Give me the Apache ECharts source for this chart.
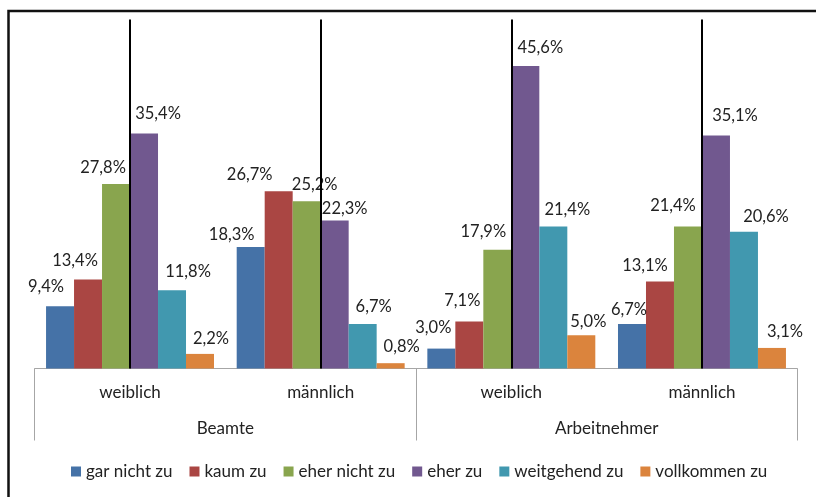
<!DOCTYPE html>
<html>
<head>
<meta charset="utf-8">
<script src="https://cdn.jsdelivr.net/npm/echarts@6/dist/echarts.min.js"></script>
<style>
  html, body { margin: 0; padding: 0; background: #fff; }
  #chart { width: 816px; height: 497px; }
</style>
</head>
<body>
<div id="chart"></div>
<script>
// Inner categories (gender) and outer groups (employment status)
const genders = ['weiblich', 'männlich', 'weiblich', 'männlich'];
const groups = ['Beamte', 'Arbeitnehmer'];

// Answer categories
const answers = ['gar nicht zu', 'kaum zu', 'eher nicht zu', 'eher zu', 'weitgehend zu', 'vollkommen zu'];

// Shares in percent, one array per answer, in the order of `genders`
const garNichtZu   = [9.4, 18.3, 3.0, 6.7];
const kaumZu       = [13.4, 26.7, 7.1, 13.1];
const eherNichtZu  = [27.8, 25.2, 17.9, 21.4];
const eherZu       = [35.4, 22.3, 45.6, 35.1];
const weitgehendZu = [11.8, 6.7, 21.4, 20.6];
const vollkommenZu = [2.2, 0.8, 5.0, 3.1];

const seriesValues = [garNichtZu, kaumZu, eherNichtZu, eherZu, weitgehendZu, vollkommenZu];
const colors = ['#4572A7', '#AA4643', '#89A54E', '#71588F', '#4198AF', '#DB843D'];

// Hand-placed label nudges [dx, dy] per answer and category
const labelNudge = [
  [[-14, -6], [-19, 1], [-8, -7], [-3, -1]],
  [[-13, -5], [-29, -3], [-7, -7], [-15, -2]],
  [[-13, -3], [8, -3], [-14, -5], [-15, -7]],
  [[14, -6], [10, 2], [15, -5], [19, -6]],
  [[16, -5], [11, -4], [14, -3], [22, -2]],
  [[11, -2], [11, -3], [7, 0], [13, -3]]
];

const FONT = 'Lato';
const TEXT = '#222';
const fmt = v => v.toFixed(1).replace('.', ',') + '%';

const series = answers.map((name, i) => ({
  name: name,
  type: 'bar',
  xAxisIndex: 0,
  barGap: '0%',
  barCategoryGap: '11.9%',
  itemStyle: { color: colors[i] },
  data: seriesValues[i].map((v, g) => ({
    value: v,
    label: { offset: labelNudge[i][g] }
  })),
  label: {
    show: true,
    position: 'top',
    distance: 5,
    fontFamily: FONT,
    fontSize: 16.5,
    color: TEXT,
    formatter: p => fmt(p.value)
  }
}));

// Vertical divider line through the centre of each category
series.push({
  name: 'divider',
  type: 'line',
  xAxisIndex: 0,
  data: genders.map(() => null),
  showSymbol: false,
  silent: true,
  z: 5,
  markLine: {
    silent: true,
    symbol: 'none',
    label: { show: false },
    lineStyle: { color: '#000', width: 2, type: 'solid' },
    data: genders.map((_, g) => ({ xAxis: g }))
  }
});

const chart = echarts.init(document.getElementById('chart'), null, { renderer: 'canvas' });
chart.setOption({
  backgroundColor: '#fff',
  animation: false,
  grid: { left: 34.7, right: 18.7, top: 19.5, bottom: 128.5 },
  xAxis: [
    {
      type: 'category',
      data: genders,
      position: 'bottom',
      axisLine: { show: true, lineStyle: { color: '#a6a6a6', width: 1 } },
      axisTick: { show: false },
      axisLabel: { margin: 16, fontFamily: FONT, fontSize: 17, color: TEXT }
    },
    {
      type: 'category',
      data: groups,
      position: 'bottom',
      axisLine: { show: false },
      axisTick: { show: true, length: 72, lineStyle: { color: '#a6a6a6', width: 1 } },
      axisLabel: { margin: 52, fontFamily: FONT, fontSize: 17, color: TEXT }
    }
  ],
  yAxis: {
    type: 'value',
    min: 0,
    max: 52.6,
    show: false,
    splitLine: { show: false }
  },
  legend: {
    data: answers,
    left: 66,
    top: 458,
    icon: 'rect',
    itemWidth: 10,
    itemHeight: 10,
    itemGap: 17,
    textStyle: { fontFamily: FONT, fontSize: 17, color: TEXT }
  },
  graphic: [
    {
      type: 'rect',
      shape: { x: 8.5, y: 11, width: 900, height: 600 },
      style: { fill: 'none', stroke: '#111', lineWidth: 2.5 },
      silent: true
    }
  ],
  series: series
});
</script>
</body>
</html>
